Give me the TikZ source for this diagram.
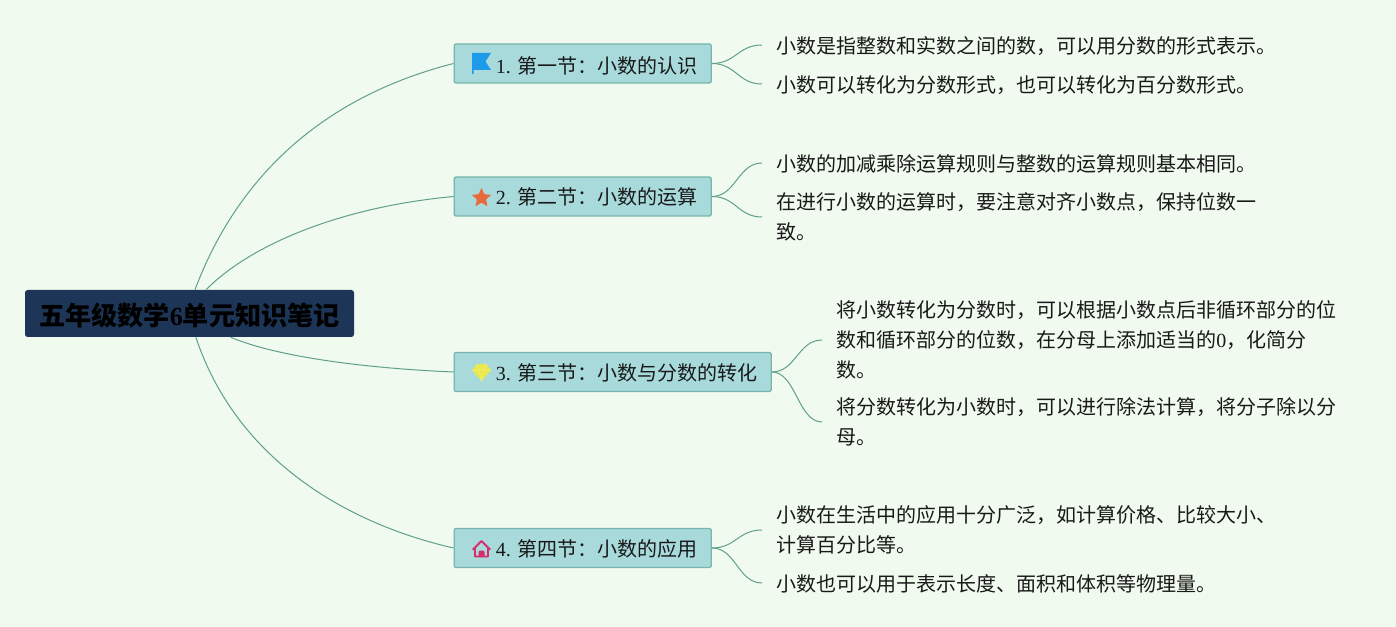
\documentclass[tikz,border=0pt]{standalone}
\usepackage{fontspec}
\setmainfont{Noto Sans CJK SC}
\newfontfamily\latinfont{Liberation Serif}
\definecolor{pagebg}{HTML}{F0FAEE}
\definecolor{rootfill}{HTML}{1D3557}
\definecolor{topicfill}{HTML}{A8DADC}
\definecolor{topicline}{HTML}{78B5AC}
\definecolor{linkline}{HTML}{609F8C}
\definecolor{flagblue}{HTML}{1E9BE8}
\definecolor{starorange}{HTML}{E8693A}
\definecolor{gemyellow}{HTML}{EBE84A}
\definecolor{gemlight}{HTML}{F0EE80}
\definecolor{homered}{HTML}{D92C6C}
\usetikzlibrary{positioning}
\newcommand{\lat}[1]{{\latinfont #1}}

\begin{document}
\begin{tikzpicture}[x=0.75pt, y=-0.75pt,
    rootbox/.style={fill=rootfill, rounded corners=2pt, minimum width=246.75pt,
                 minimum height=35.25pt, inner sep=0pt, text=black, text height=19pt, text depth=1.6pt,
                 font=\fontsize{19.6pt}{24pt}\selectfont\bfseries},
    topicbox/.style={draw=topicline, line width=1pt, fill=topicfill, rounded corners=1.5pt,
                 anchor=west, minimum height=29.25pt, inner ysep=0pt, inner xsep=10.3pt,
                 text height=13.6pt, text depth=1pt,
                 text=black!90, font=\fontsize{15pt}{22.5pt}\selectfont},
    leaftext/.style={anchor=west, align=left, inner xsep=10.5pt, inner ysep=0pt,
                 text=black!90, font=\fontsize{15pt}{22.5pt}\selectfont},
    leafline/.style={leaftext, text height=13.6pt, text depth=1pt},
    link/.style={draw=linkline, line width=0.75pt}]

  \useasboundingbox (0,0) rectangle (1396,627);
  \fill[pagebg] (0,0) rectangle (1396,627);

  % Root and the four sections
  \node[rootbox] (root) at (189.5,313.5) {五年级数学\lat{6}单元知识笔记};
  \node[topicbox, text height=15.6pt] (sec1) at (453.5,63.5) {\hspace*{20.95pt}\lat{1. }第一节：小数的认识};
  \node[topicbox] (sec2) at (453.5,196.5) {\hspace*{20.95pt}\lat{2. }第二节：小数的运算};
  \node[topicbox] (sec3) at (453.5,372) {\hspace*{20.95pt}\lat{3. }第三节：小数与分数的转化};
  \node[topicbox] (sec4) at (453.5,548) {\hspace*{20.95pt}\lat{4. }第四节：小数的应用};

  % Notes
  \node[leafline] (note1a) at (762,45) {小数是指整数和实数之间的数，可以用分数的形式表示。};
  \node[leafline] (note1b) at (762,84) {小数可以转化为分数形式，也可以转化为百分数形式。};
  \node[leafline] (note2a) at (762,163) {小数的加减乘除运算规则与整数的运算规则基本相同。};
  \node[leaftext] (note2b) at (762,217) {在进行小数的运算时，要注意对齐小数点，保持位数一\\致。};
  \node[leaftext] (note3a) at (822,340) {将小数转化为分数时，可以根据小数点后非循环部分的位\\数和循环部分的位数，在分母上添加适当的\lat{0}，化简分\\数。};
  \node[leaftext] (note3b) at (822,422) {将分数转化为小数时，可以进行除法计算，将分子除以分\\母。};
  \node[leaftext] (note4a) at (762,530) {小数在生活中的应用十分广泛，如计算价格、比较大小、\\计算百分比等。};
  \node[leafline] (note4b) at (762,583) {小数也可以用于表示长度、面积和体积等物理量。};

  % Root links
  \draw[link] (root.77) .. controls (240,170) and (330,95) .. (sec1.west);
  \draw[link] (root.55) .. controls (250,245) and (340,207) .. (sec2.west);
  \draw[link] (root.-30) .. controls (275,356) and (360,368) .. (sec3.west);
  \draw[link] (root.-75) .. controls (235,455) and (340,522) .. (sec4.west);

  % Note links
  \draw[link] (sec1.east) .. controls +(24,0) and +(-24,0) .. (note1a.west);
  \draw[link] (sec1.east) .. controls +(24,0) and +(-24,0) .. (note1b.west);
  \draw[link] (sec2.east) .. controls +(24,0) and +(-24,0) .. (note2a.west);
  \draw[link] (sec2.east) .. controls +(24,0) and +(-24,0) .. (note2b.west);
  \draw[link] (sec3.east) .. controls +(24,0) and +(-24,0) .. (note3a.west);
  \draw[link] (sec3.east) .. controls +(24,0) and +(-24,0) .. (note3b.west);
  \draw[link] (sec4.east) .. controls +(24,0) and +(-24,0) .. (note4a.west);
  \draw[link] (sec4.east) .. controls +(24,0) and +(-24,0) .. (note4b.west);

  % Flag
  \fill[flagblue] (472,53) -- (491,53) -- (485.5,61.5) -- (491,70) -- (473.5,70) -- (473.5,74) -- (472,74) -- cycle;

  % Star
  \fill[starorange, rounded corners=0.8pt] (481.5,187.5) -- (484.2,194.3) -- (491.5,194.8) -- (485.9,199.4)
    -- (487.7,206.5) -- (481.5,202.6) -- (475.3,206.5) -- (477.1,199.4) -- (471.5,194.8) -- (478.8,194.3) -- cycle;

  % Gem
  \fill[gemyellow] (477,364) -- (486,364) -- (491,370) -- (481.5,381) -- (472,370) -- cycle;
  \draw[gemlight, line width=0.4pt] (472,370) -- (491,370)
    (477,364) -- (479,370) -- (481.5,381) -- (484,370) -- (486,364);

  % House
  \draw[homered, line width=1.4pt, line cap=round, line join=round]
    (473,549.5) -- (481.5,541) -- (490,549.5)
    (475,547.5) -- (475,556.5) -- (488,556.5) -- (488,547.5);
  \fill[homered, rounded corners=1pt] (478.5,557) -- (478.5,550.5) -- (484.5,550.5) -- (484.5,557) -- cycle;
\end{tikzpicture}
\end{document}
